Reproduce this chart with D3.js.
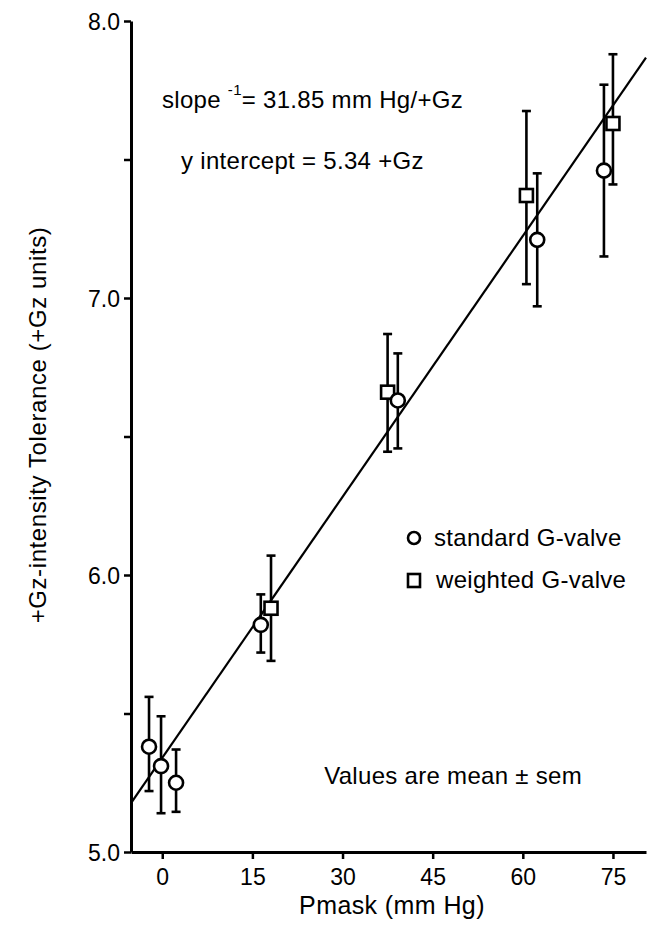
<!DOCTYPE html>
<html>
<head>
<meta charset="utf-8">
<script src="https://cdn.jsdelivr.net/npm/d3@7"></script>
<style>
  body { margin: 0; background: #fff; }
  text { font-family: "Liberation Sans", Arial, Helvetica, sans-serif; fill: #000; }
</style>
</head>
<body>
<div id="chart"></div>
<script>
// standard G-valve (circles)
var stdX = [-2.2, -0.2, 2.3, 16.4, 39.2, 62.4, 73.5];
var stdY = [5.38, 5.31, 5.25, 5.82, 6.63, 7.21, 7.46];
var stdHi = [5.56, 5.49, 5.37, 5.93, 6.80, 7.45, 7.77];
var stdLo = [5.22, 5.14, 5.145, 5.72, 6.457, 6.97, 7.15];

// weighted G-valve (squares)
var wtX = [18.1, 37.5, 60.6, 75.0];
var wtY = [5.88, 6.66, 7.37, 7.63];
var wtHi = [6.07, 6.87, 7.675, 7.88];
var wtLo = [5.69, 6.445, 7.05, 7.41];

// regression
var slopeInv = 31.85, intercept = 5.34;

var xTicks = [0, 15, 30, 45, 60, 75];
var yTicks = [5.0, 5.5, 6.0, 6.5, 7.0, 7.5, 8.0];

var width = 650, height = 925;
var margin = {top: 21, right: 4, bottom: 73, left: 131};

var svg = d3.select("#chart").append("svg")
  .attr("width", width)
  .attr("height", height);

var x = d3.scaleLinear()
  .domain([-5.2, 80.5])
  .range([margin.left, width - margin.right]);

var y = d3.scaleLinear()
  .domain([5.0, 8.0])
  .range([height - margin.bottom, margin.top]);

// axes
var xAxis = svg.append("g")
  .attr("transform", "translate(0," + y(5.0) + ")")
  .call(d3.axisBottom(x).tickValues(xTicks).tickSize(7).tickPadding(5).tickSizeOuter(0));
xAxis.select(".domain").attr("stroke-width", 3);
xAxis.selectAll(".tick line").attr("stroke-width", 2.5);
xAxis.selectAll(".tick text").style("font-size", "23px").attr("dy", "0.9em");

var yAxis = svg.append("g")
  .attr("transform", "translate(" + x(-5.2) + ",0)")
  .call(d3.axisLeft(y).tickValues(yTicks).tickSize(7).tickPadding(4).tickSizeOuter(0)
    .tickFormat(function(d) { return d % 1 === 0 ? d3.format(".1f")(d) : ""; }));
yAxis.select(".domain").attr("stroke-width", 3);
yAxis.selectAll(".tick line").attr("stroke-width", 2.5);
yAxis.selectAll(".tick text").style("font-size", "23px").attr("dy", "0.36em");

// regression line
var xd = x.domain();
svg.append("line")
  .attr("x1", x(xd[0])).attr("y1", y(intercept + xd[0] / slopeInv))
  .attr("x2", x(xd[1])).attr("y2", y(intercept + xd[1] / slopeInv))
  .attr("stroke", "#000").attr("stroke-width", 2.2);

function errorBars(xs, hi, lo) {
  var g = svg.append("g").attr("stroke", "#000").attr("stroke-width", 2.6);
  xs.forEach(function(v, i) {
    g.append("line").attr("x1", x(v)).attr("x2", x(v)).attr("y1", y(hi[i])).attr("y2", y(lo[i]));
    g.append("line").attr("x1", x(v) - 4.5).attr("x2", x(v) + 4.5).attr("y1", y(hi[i])).attr("y2", y(hi[i]));
    g.append("line").attr("x1", x(v) - 4.5).attr("x2", x(v) + 4.5).attr("y1", y(lo[i])).attr("y2", y(lo[i]));
  });
}
errorBars(stdX, stdHi, stdLo);
errorBars(wtX, wtHi, wtLo);

// markers
svg.selectAll("rect.wt")
  .data(wtX)
  .enter().append("rect")
  .attr("class", "wt")
  .attr("x", function(d) { return x(d) - 6.5; })
  .attr("y", function(d, i) { return y(wtY[i]) - 6.5; })
  .attr("width", 13).attr("height", 13)
  .attr("fill", "#fff").attr("stroke", "#000").attr("stroke-width", 2.6);

svg.selectAll("circle.std")
  .data(stdX)
  .enter().append("circle")
  .attr("class", "std")
  .attr("cx", function(d) { return x(d); })
  .attr("cy", function(d, i) { return y(stdY[i]); })
  .attr("r", 7)
  .attr("fill", "#fff").attr("stroke", "#000").attr("stroke-width", 2.6);

// annotations
var ann = svg.append("text")
  .attr("x", 162).attr("y", 108)
  .style("font-size", "24px").style("letter-spacing", "0.3px");
ann.append("tspan").text("slope ");
ann.append("tspan").attr("dy", -13).style("font-size", "15px").text("-1");
ann.append("tspan").attr("dy", 13).text("= 31.85 mm Hg/+Gz");

svg.append("text")
  .attr("x", 181).attr("y", 169)
  .style("font-size", "24px").style("letter-spacing", "0.3px")
  .text("y intercept = 5.34 +Gz");

// legend
svg.append("circle").attr("cx", 414).attr("cy", 538).attr("r", 6)
  .attr("fill", "#fff").attr("stroke", "#000").attr("stroke-width", 2.6);
svg.append("text").attr("x", 434).attr("y", 546)
  .style("font-size", "24px").style("letter-spacing", "0.3px").text("standard G-valve");
svg.append("rect").attr("x", 408).attr("y", 574).attr("width", 12).attr("height", 13)
  .attr("fill", "#fff").attr("stroke", "#000").attr("stroke-width", 2.6);
svg.append("text").attr("x", 436).attr("y", 588)
  .style("font-size", "24px").style("letter-spacing", "0.3px").text("weighted G-valve");

svg.append("text").attr("x", 582).attr("y", 784)
  .attr("text-anchor", "end")
  .style("font-size", "24px").style("letter-spacing", "0.3px")
  .text("Values are mean \u00b1 sem");

// axis titles
svg.append("text")
  .attr("x", 392).attr("y", 914)
  .attr("text-anchor", "middle")
  .style("font-size", "25px").style("letter-spacing", "0.4px")
  .text("Pmask (mm Hg)");

svg.append("text")
  .attr("transform", "translate(46,425) rotate(-90)")
  .attr("text-anchor", "middle")
  .style("font-size", "24px").style("letter-spacing", "0.6px")
  .text("+Gz-intensity Tolerance (+Gz units)");
</script>
</body>
</html>
